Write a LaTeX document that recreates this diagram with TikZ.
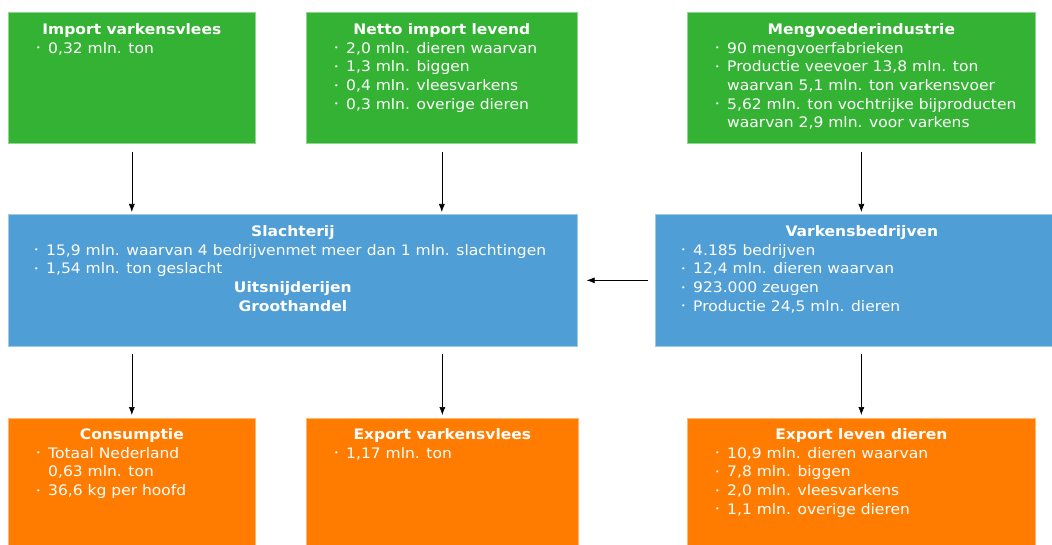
\documentclass[tikz,border=0pt]{standalone}
\usepackage{fontspec}
\setmainfont[FakeStretch=1.07]{DejaVu Sans}
\usepackage{tikz}
\usetikzlibrary{arrows.meta,positioning}
\definecolor{vgreen}{RGB}{52,178,52}
\definecolor{vblue}{RGB}{79,158,213}
\definecolor{vorange}{RGB}{255,124,0}
\newcommand{\bul}{\strut\makebox[12pt][l]{\raisebox{0.3ex}{\scalebox{0.5}{\textbullet}}}}
\newcommand{\ind}{\strut\hspace*{12pt}}

\begin{document}
\begin{tikzpicture}[x=1pt,y=-1pt,
        box/.style={draw=#1!55!white,line width=0.7pt,fill=#1,anchor=north west,inner sep=0pt},
        head/.style={anchor=north,inner sep=0pt,align=center,text=white,font=\fontsize{14.5}{18.6}\selectfont\bfseries},
        items/.style={anchor=north west,inner sep=0pt,align=left,text=white,font=\fontsize{14.5}{18.6}\selectfont},
        link/.style={-{Latex[length=8pt,width=6pt]},line width=0.6pt}]
        \useasboundingbox (0,0) rectangle (1052,545);

        % Aanvoer
        \node[box=vgreen,minimum width=247pt,minimum height=131pt] (imp) at (8,12) {};
        \node[box=vgreen,minimum width=271pt,minimum height=131pt] (net) at (306,12) {};
        \node[box=vgreen,minimum width=348pt,minimum height=131pt] (meng) at (687,12) {};
        \node[head] (imp-t) at ([yshift=-9pt]imp.north) {\strut Import varkensvlees};
        \node[head] (net-t) at ([yshift=-9pt]net.north) {\strut Netto import levend};
        \node[head] (meng-t) at ([yshift=-9pt]meng.north) {\strut Mengvoederindustrie};
        \node[items] (imp-l) at ([xshift=28pt]imp-t.south -| imp.west) {\bul 0,32 mln. ton};
        \node[items] (net-l) at ([xshift=28pt]net-t.south -| net.west)
                {\bul 2,0 mln. dieren waarvan\\\bul 1,3 mln. biggen\\\bul 0,4 mln. vleesvarkens\\\bul 0,3 mln. overige dieren};
        \node[items] (meng-l) at ([xshift=28pt]meng-t.south -| meng.west)
                {\bul 90 mengvoerfabrieken\\\bul Productie veevoer 13,8 mln. ton\\\ind waarvan 5,1 mln. ton varkensvoer\\
                 \bul 5,62 mln. ton vochtrijke bijproducten\\\ind waarvan 2,9 mln. voor varkens};

        % Midden
        \node[box=vblue,minimum width=569pt,minimum height=132pt] (sla) at (8,214) {};
        \node[box=vblue,minimum width=397pt,minimum height=132pt] (vark) at (655,214) {};
        \node[head] (sla-t) at ([yshift=-9pt]sla.north) {\strut Slachterij};
        \node[items] (sla-l) at ([xshift=26pt]sla-t.south -| sla.west)
                {\bul 15,9 mln. waarvan 4 bedrijvenmet meer dan 1 mln. slachtingen\\\bul 1,54 mln. ton geslacht};
        \node[head] (sla-u) at (sla-l.south -| sla.north) {\strut Uitsnijderijen\\\strut Groothandel};
        \node[head] (vark-t) at ([xshift=8pt,yshift=-9pt]vark.north) {\strut Varkensbedrijven};
        \node[items] (vark-l) at ([xshift=26pt]vark-t.south -| vark.west)
                {\bul 4.185 bedrijven\\\bul 12,4 mln. dieren waarvan\\\bul 923.000 zeugen\\\bul Productie 24,5 mln. dieren};

        % Afzet
        \node[box=vorange,minimum width=247pt,minimum height=127pt] (cons) at (8,418) {};
        \node[box=vorange,minimum width=272pt,minimum height=127pt] (expv) at (306,418) {};
        \node[box=vorange,minimum width=348pt,minimum height=127pt] (expl) at (687,418) {};
        \node[head] (cons-t) at ([yshift=-8pt]cons.north) {\strut Consumptie};
        \node[head] (expv-t) at ([yshift=-8pt]expv.north) {\strut Export varkensvlees};
        \node[head] (expl-t) at ([yshift=-8pt]expl.north) {\strut Export leven dieren};
        \node[items] (cons-l) at ([xshift=28pt]cons-t.south -| cons.west)
                {\bul Totaal Nederland\\\ind 0,63 mln. ton\\\bul 36,6 kg per hoofd};
        \node[items] (expv-l) at ([xshift=28pt]expv-t.south -| expv.west) {\bul 1,17 mln. ton};
        \node[items] (expl-l) at ([xshift=28pt]expl-t.south -| expl.west)
                {\bul 10,9 mln. dieren waarvan\\\bul 7,8 mln. biggen\\\bul 2,0 mln. vleesvarkens\\\bul 1,1 mln. overige dieren};

        % Pijlen
        \draw[link,shorten <=8pt,shorten >=2pt] (imp.south) -- (imp.south |- sla.north);
        \draw[link,shorten <=8pt,shorten >=2pt] (net.south) -- (net.south |- sla.north);
        \draw[link,shorten <=8pt,shorten >=2pt] (meng.south) -- (meng.south |- vark.north);
        \draw[link,shorten <=7pt,shorten >=9pt] (vark.west) -- (vark.west -| sla.east);
        \draw[link,shorten <=7pt,shorten >=3pt] (sla.south -| cons.north) -- (cons.north);
        \draw[link,shorten <=7pt,shorten >=3pt] (sla.south -| expv.north) -- (expv.north);
        \draw[link,shorten <=7pt,shorten >=3pt] (vark.south -| expl.north) -- (expl.north);
\end{tikzpicture}
\end{document}
